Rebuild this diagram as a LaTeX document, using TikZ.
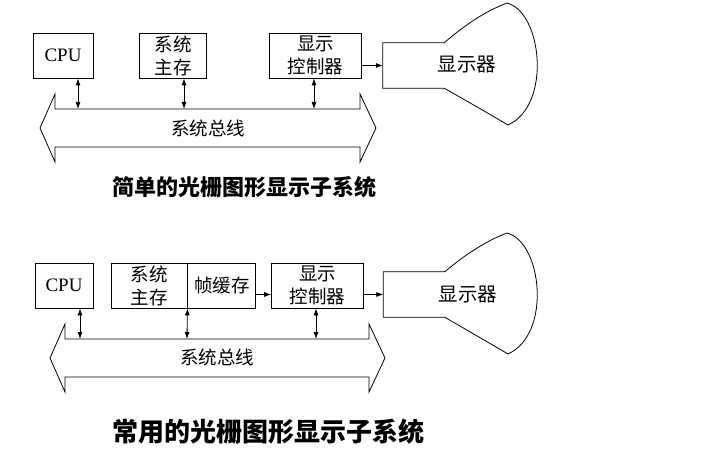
\documentclass[tikz,border=0pt]{standalone}
\usepackage{fontspec}
\setmainfont{Liberation Serif}
\newfontfamily\cjk{Noto Sans CJK SC}
\usetikzlibrary{arrows.meta, positioning, calc}

\begin{document}
\begin{tikzpicture}[
  x=1pt, y=-1pt,
  box/.style={rectangle, draw, line width=0.8pt, minimum height=45pt, inner sep=0pt, align=center, font=\cjk\fontsize{18.5}{23}\selectfont},
  cpubox/.style={box, font=\fontsize{19}{23}\selectfont},
  screen/.style={rectangle, minimum width=61pt, minimum height=45pt, inner sep=0pt},
  label/.style={font=\cjk\fontsize{18.5}{22}\selectfont},
  caption/.style={font=\cjk\bfseries\fontsize{#1}{#1}\selectfont},
  line/.style={line width=0.8pt},
  arrow/.style={-{Latex[length=7pt, width=5pt]}, line width=0.8pt},
  dbl/.style={{Latex[length=7pt, width=5pt]}-{Latex[length=7pt, width=5pt]}, line width=0.8pt}
]
\useasboundingbox (0,0) rectangle (714,462);

% ------------------------------------------------------------
% Simple raster display subsystem
% ------------------------------------------------------------

\node[cpubox, minimum width=60pt] (cpu) at (63,55.5) {CPU};
\node[box, minimum width=67pt, right=46pt of cpu] (mem) {系统\\主存};
\node[box, minimum width=92pt, right=62pt of mem] (ctrl) {显示\\控制器};
\node[screen] (scr) at (413.5,65.5) {};
\node[label, font=\cjk\fontsize{19.5}{22}\selectfont] (mon) at (467,65) {显示器};

\draw[line] (scr.north east) -- (scr.north west) -- (scr.south west) -- (scr.south east)
  .. controls (465,100) and (486,112) .. (508,125)
  .. controls (552,105) and (542,12) .. (507,3)
  .. controls (486,11) and (466,24) .. (scr.north east);

\draw[arrow] (ctrl.east |- scr.west) -- (scr.west);

% bus
\draw[line] (40,128) -- (55,94) -- (55,109) -- (360,109) -- (360,94) -- (376,128)
  -- (360,162) -- (360,147) -- (55,147) -- (55,162) -- cycle;
\node[label] (bus) at (208,128) {系统总线};

\coordinate (cpuport) at (78,109);
\coordinate (memport) at (184,109);
\coordinate (ctrlport) at (314,109);

\draw[dbl] (cpu.south -| cpuport) -- (cpuport);
\draw[dbl] (mem.south -| memport) -- (memport);
\draw[dbl] (ctrl.south -| ctrlport) -- (ctrlport);

\node[caption=22] (cap1) at (244.5,187) {简单的光栅图形显示子系统};

% ------------------------------------------------------------
% Common raster display subsystem
% ------------------------------------------------------------

\node[cpubox, minimum width=58pt] (cpu2) at (64,285.5) {CPU};
\node[box, minimum width=76pt] (mem2) at (149,285.5) {系统\\主存};
\node[box, minimum width=68pt, right=0pt of mem2] (fb) {帧缓存};
\node[box, minimum width=92pt, right=15pt of fb] (ctrl2) {显示\\控制器};
\node[screen] (scr2) at (414,294.5) {};
\node[label, font=\cjk\fontsize{19.5}{22}\selectfont] (mon2) at (468,295) {显示器};

\draw[line] (scr2.north east) -- (scr2.north west) -- (scr2.south west) -- (scr2.south east)
  .. controls (465,329) and (486,341) .. (508,354)
  .. controls (552,334) and (542,242) .. (507,233)
  .. controls (486,241) and (466,254) .. (scr2.north east);

\draw[arrow] (fb.east |- scr2.west) -- (ctrl2.west |- scr2.west);
\draw[arrow] (ctrl2.east |- scr2.west) -- (scr2.west);

% bus
\draw[line] (50,358) -- (65,324) -- (65,339) -- (369,339) -- (369,324) -- (385,358)
  -- (369,392) -- (369,377) -- (65,377) -- (65,392) -- cycle;
\node[label] (bus2) at (217,357) {系统总线};

\coordinate (cpuport2) at (80,339);
\coordinate (memport2) at (187,339);
\coordinate (ctrlport2) at (316,339);

\draw[dbl] (cpu2.south -| cpuport2) -- (cpuport2);
\draw[dbl] (mem2.south east) -- (memport2);
\draw[dbl] (ctrl2.south -| ctrlport2) -- (ctrlport2);

\node[caption=26] (cap2) at (268.5,432) {常用的光栅图形显示子系统};

\end{tikzpicture}
\end{document}
